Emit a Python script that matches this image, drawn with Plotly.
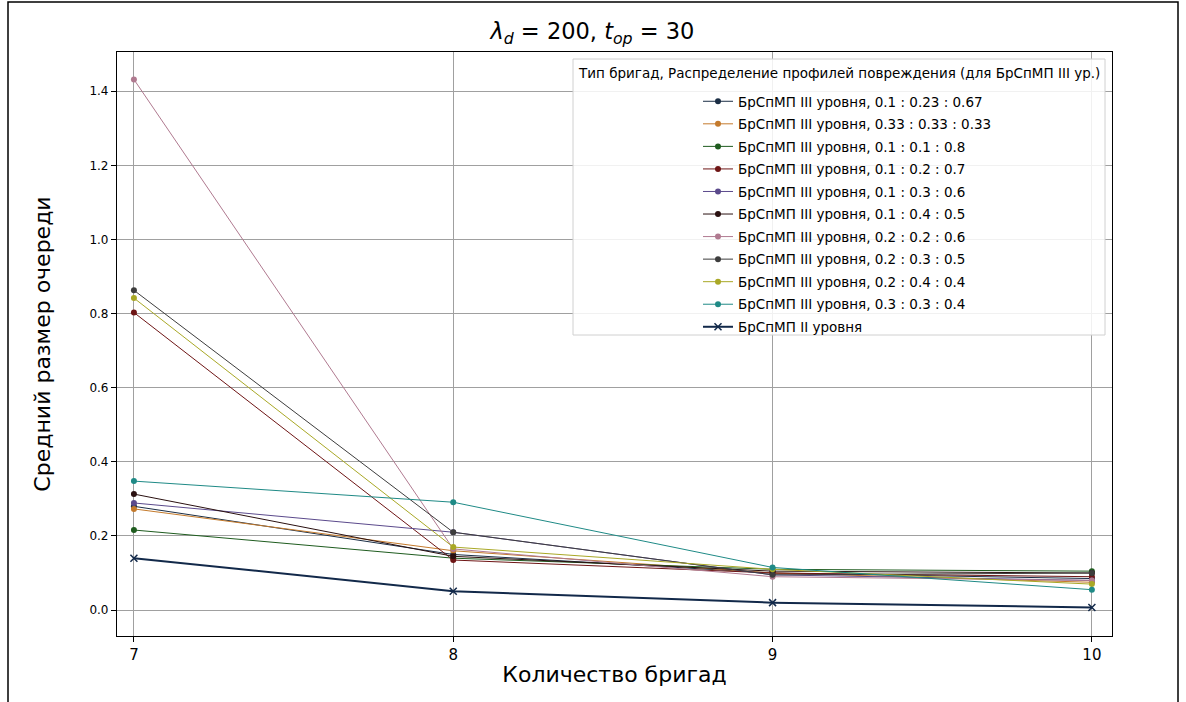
import plotly.graph_objects as go

x_vals = [7, 8, 9, 10]

series_names = [
    "БрСпМП III уровня, 0.1 : 0.23 : 0.67",
    "БрСпМП III уровня, 0.33 : 0.33 : 0.33",
    "БрСпМП III уровня, 0.1 : 0.1 : 0.8",
    "БрСпМП III уровня, 0.1 : 0.2 : 0.7",
    "БрСпМП III уровня, 0.1 : 0.3 : 0.6",
    "БрСпМП III уровня, 0.1 : 0.4 : 0.5",
    "БрСпМП III уровня, 0.2 : 0.2 : 0.6",
    "БрСпМП III уровня, 0.2 : 0.3 : 0.5",
    "БрСпМП III уровня, 0.2 : 0.4 : 0.4",
    "БрСпМП III уровня, 0.3 : 0.3 : 0.4",
]

s_01_023_067 = [0.280, 0.150, 0.100, 0.085]
s_033_033_033 = [0.273, 0.160, 0.100, 0.075]
s_01_01_08 = [0.216, 0.140, 0.110, 0.105]
s_01_02_07 = [0.803, 0.135, 0.100, 0.090]
s_01_03_06 = [0.289, 0.210, 0.095, 0.080]
s_01_04_05 = [0.313, 0.145, 0.105, 0.100]
s_02_02_06 = [1.432, 0.165, 0.090, 0.080]
s_02_03_05 = [0.863, 0.210, 0.095, 0.100]
s_02_04_04 = [0.842, 0.170, 0.110, 0.070]
s_03_03_04 = [0.348, 0.291, 0.115, 0.055]
level2_name = "БрСпМП II уровня"
level2_vals = [0.140, 0.051, 0.020, 0.007]

legend_title = "Тип бригад, Распределение профилей повреждения (для БрСпМП III ур.)"
title_text = "<i>λ<sub>d</sub></i> = 200, <i>t<sub>op</sub></i> = 30"

series_vals = [s_01_023_067, s_033_033_033, s_01_01_08, s_01_02_07, s_01_03_06,
               s_01_04_05, s_02_02_06, s_02_03_05, s_02_04_04, s_03_03_04]

colors = ["#1b2e45", "#c47a2c", "#1f5c1f", "#6e1515", "#5b4a8c",
          "#2a1010", "#b07a90", "#3d3d3d", "#a9a826", "#1f8a86"]

fig = go.Figure()
for i, (name, vals, c) in enumerate(zip(series_names, series_vals, colors)):
    fig.add_trace(go.Scatter(x=x_vals, y=vals, name=name, mode="lines+markers",
                             legendgroup=f"g{i}",
                             line=dict(color=c, width=1),
                             marker=dict(color=c, size=6, symbol="circle")))
fig.add_trace(go.Scatter(x=x_vals, y=level2_vals, name=level2_name, mode="lines+markers",
                         legendgroup="g_ii",
                         line=dict(color="#12294a", width=2),
                         marker=dict(color="#12294a", size=7, symbol="x-thin",
                                     line=dict(color="#12294a", width=1.5))))

L, R, T, B = 117, 74, 52, 66
W, H = 1186, 702
pw, ph = W - L - R, H - T - B

def px(xp):
    return (xp - L) / pw

def py(yp):
    return (H - B - yp) / ph

# outer frame of the picture
fig.add_shape(type="rect", xref="paper", yref="paper",
              x0=px(8), x1=px(1178), y0=py(712), y1=py(2),
              line=dict(color="black", width=1.5), fillcolor="rgba(0,0,0,0)", layer="below")
# legend box
fig.add_shape(type="rect", xref="paper", yref="paper",
              x0=px(573), x1=px(1105), y0=py(335), y1=py(59),
              line=dict(color="#d0d0d0", width=1), fillcolor="rgba(255,255,255,0.85)",
              layer="above")
fig.add_annotation(text=legend_title, xref="paper", yref="paper",
                   x=px(839), y=py(73), xanchor="center", yanchor="middle",
                   showarrow=False, font=dict(size=13.5, color="black"))

fig.update_layout(
    width=W, height=H,
    margin=dict(l=L, r=R, t=T, b=B),
    paper_bgcolor="white", plot_bgcolor="white",
    font=dict(family="DejaVu Sans", color="black"),
    title=dict(text=title_text,
               x=px(614), xanchor="center", y=1 - 31 / H, yanchor="middle",
               font=dict(size=22.5)),
    legend=dict(x=px(698), xanchor="left", y=py(86), yanchor="top",
                bgcolor="rgba(0,0,0,0)", borderwidth=0,
                font=dict(size=13.5), tracegroupgap=2, itemwidth=30),
    showlegend=True,
)
fig.update_xaxes(range=[6.947, 10.063], tickvals=x_vals, ticktext=[str(v) for v in x_vals],
                 showgrid=True, gridcolor="#a0a0a0", gridwidth=1,
                 showline=True, linecolor="black", linewidth=1.2, mirror=True,
                 ticks="outside", ticklen=5, tickcolor="black", tickfont=dict(size=15),
                 zeroline=False,
                 title=dict(text="Количество бригад", font=dict(size=22), standoff=3))
fig.update_yaxes(range=[-0.070, 1.506], tickvals=[0, 0.2, 0.4, 0.6, 0.8, 1.0, 1.2, 1.4],
                 tickformat=".1f",
                 showgrid=True, gridcolor="#a0a0a0", gridwidth=1,
                 showline=True, linecolor="black", linewidth=1.2, mirror=True,
                 ticks="outside", ticklen=5, tickcolor="black", tickfont=dict(size=12),
                 zeroline=False,
                 title=dict(text="Средний размер очереди", font=dict(size=22), standoff=32))

fig.write_html("out.html")
